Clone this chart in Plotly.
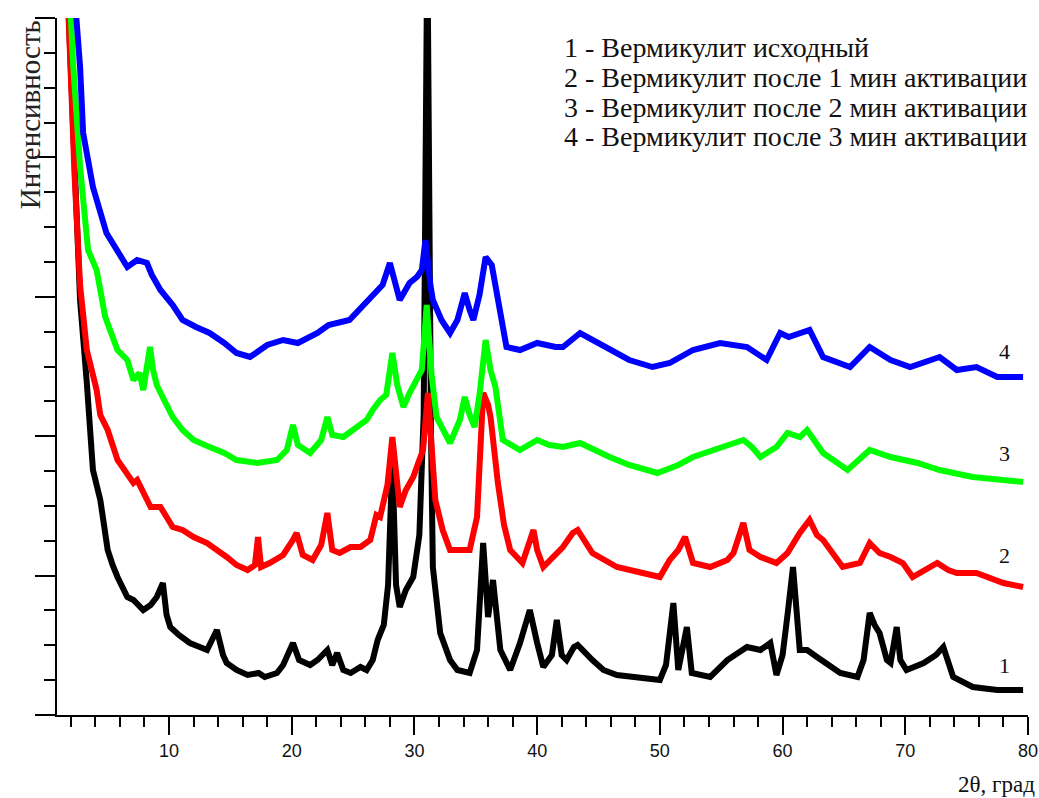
import plotly.graph_objects as go

# 2-theta positions (degrees) and intensities (arbitrary units)
x1 = [1.5, 1.9, 2.3, 2.75, 3.3, 3.8, 4.4, 5.0, 5.4, 5.8, 6.6, 7.1, 7.9, 8.5, 9.0, 9.5, 9.8, 10.1, 10.8, 11.7,
      12.5, 13.1, 13.9, 14.4, 14.7, 15.5, 16.4, 17.3, 17.8, 18.8, 19.3, 19.8, 20.1, 20.6, 21.5, 22.1, 22.9, 23.3,
      23.7, 24.2, 24.8, 25.6, 26.1, 26.6, 27.0, 27.5, 27.85, 28.2, 28.5, 28.8, 29.3, 29.9, 30.4, 30.75, 31.05,
      31.35, 31.5, 32.1, 32.9, 33.5, 34.5, 35.1, 35.6, 36.0, 36.4, 37.0, 37.8, 38.6, 39.4, 40.0, 40.5, 41.2,
      41.6, 42.0, 42.4, 43.0, 43.3, 44.5, 45.4, 46.5, 47.8, 49.0, 50.0, 50.5, 51.1, 51.5, 52.2, 52.6, 54.1,
      55.5, 57.1, 58.2, 59.0, 59.5, 60.0, 60.4, 60.85, 61.4, 62.0, 62.8, 64.7, 66.1, 66.6, 67.1, 67.5, 67.9,
      68.5, 68.8, 69.3, 69.6, 70.1, 71.5, 72.5, 73.1, 73.5, 73.9, 75.5, 77.5, 79.6]
y1 = [800, 682, 545, 415, 332, 245, 215, 165, 150, 138, 118, 115, 105, 110, 118, 132, 100, 88, 80, 72,
      68, 65, 85, 60, 52, 45, 40, 42, 38, 42, 50, 65, 72, 55, 50, 55, 65, 50,
      62, 45, 42, 48, 45, 55, 75, 90, 130, 255, 130, 108, 125, 138, 180, 300, 780,
      280, 148, 82, 55, 45, 42, 65, 172, 98, 135, 65, 45, 72, 105, 72, 48, 60,
      95, 60, 55, 68, 70, 55, 45, 40, 38, 36, 35, 50, 112, 45, 88, 42, 38,
      55, 68, 65, 72, 40, 60, 100, 148, 65, 65, 58, 42, 38, 55, 102, 90, 82,
      55, 52, 88, 55, 45, 52, 60, 68, 55, 38, 28, 25, 25]

x2 = [1.5, 1.8, 2.3, 2.75, 3.3, 4.1, 4.4, 5.0, 5.8, 7.1, 7.4, 8.5, 9.3, 10.3, 11.1, 12.0, 13.1, 14.7, 15.5,
      16.4, 17.0, 17.25, 17.5, 18.2, 19.3, 20.1, 20.4, 20.9, 21.7, 22.4, 22.9, 23.3, 23.9, 24.8, 25.6, 26.4,
      26.9, 27.2, 27.8, 28.2, 28.5, 28.8, 29.3, 29.9, 30.4, 30.7, 31.1, 31.4, 31.7, 32.3, 32.9, 33.5, 34.5,
      35.1, 35.6, 36.0, 36.2, 36.8, 37.3, 37.8, 38.8, 39.7, 40.0, 40.5, 41.5, 42.1, 42.9, 43.3, 44.5, 45.5,
      46.5, 48.6, 50.0, 50.8, 51.5, 52.05, 52.7, 54.1, 55.5, 56.0, 56.8, 57.3, 58.2, 59.5, 60.4, 61.4, 62.2,
      62.8, 63.3, 64.9, 66.3, 67.1, 67.9, 68.8, 69.8, 70.6, 72.6, 73.5, 74.2, 75.8, 77.5, 78.0, 79.6]
y2 = [800, 700, 540, 430, 365, 325, 300, 285, 255, 232, 235, 208, 208, 188, 185, 178, 172, 158, 150,
      145, 150, 178, 148, 152, 160, 175, 182, 160, 155, 170, 202, 165, 162, 168, 168, 175,
      200, 198, 230, 278, 240, 208, 225, 238, 255, 265, 322, 270, 215, 185, 165, 165, 165,
      198, 322, 310, 298, 232, 190, 165, 152, 185, 165, 148, 160, 168, 182, 185, 162, 155,
      148, 142, 138, 155, 165, 178, 152, 148, 155, 162, 192, 165, 158, 152, 162, 182, 195,
      180, 175, 148, 152, 172, 162, 158, 152, 138, 152, 145, 142, 142, 135, 132, 128]

x3 = [1.5, 2.0, 2.2, 2.75, 3.0, 3.4, 4.1, 4.8, 5.8, 6.6, 7.1, 7.6, 7.9, 8.45, 8.7, 9.0, 9.6, 10.3, 11.1,
      12.0, 13.3, 14.5, 15.5, 17.2, 18.8, 19.6, 20.1, 20.5, 21.5, 22.4, 22.9, 23.3, 24.2, 25.0, 26.1, 26.6,
      27.2, 27.7, 28.2, 28.6, 29.1, 29.6, 30.2, 30.6, 31.0, 31.4, 31.8, 32.9, 33.7, 34.1, 34.5, 34.9, 35.3,
      35.8, 36.2, 36.6, 37.2, 38.6, 40.0, 41.0, 42.1, 43.5, 45.9, 47.5, 49.8, 51.5, 52.7, 54.5, 56.8, 57.5,
      58.2, 59.5, 60.4, 61.4, 62.0, 63.3, 65.3, 67.1, 68.8, 71.0, 72.8, 75.5, 77.5, 79.6]
y3 = [820, 700, 648, 548, 515, 465, 445, 398, 365, 355, 335, 342, 325, 368, 345, 330, 315, 298, 285,
      275, 268, 262, 255, 252, 255, 265, 290, 270, 262, 275, 298, 280, 278, 285, 295, 305,
      315, 320, 362, 330, 308, 322, 335, 345, 410, 340, 298, 272, 295, 318, 300, 288, 320,
      375, 345, 328, 275, 265, 275, 270, 268, 272, 258, 250, 242, 250, 258, 265, 275, 268,
      258, 268, 282, 278, 285, 262, 245, 265, 258, 252, 245, 238, 236, 233]

x4 = [1.5, 2.3, 2.5, 2.75, 3.0, 3.8, 4.9, 6.6, 7.4, 8.2, 8.6, 9.3, 10.3, 11.1, 12.2, 13.3, 14.5, 15.5, 16.6,
      17.5, 18.0, 19.3, 20.5, 22.1, 23.0, 24.7, 25.5, 26.6, 27.4, 28.0, 28.5, 28.8, 29.6, 30.2, 30.6, 30.9,
      31.3, 31.5, 32.2, 32.9, 33.5, 34.1, 34.5, 34.8, 35.3, 35.8, 36.3, 37.0, 37.5, 38.6, 40.0, 41.5, 42.1,
      43.5, 45.9, 47.5, 49.4, 50.8, 52.7, 54.9, 57.1, 58.7, 59.8, 60.5, 62.2, 63.3, 65.5, 67.1, 68.8, 70.4,
      72.8, 74.2, 75.8, 77.5, 79.6]
y4 = [850, 720, 698, 648, 582, 528, 482, 448, 455, 452, 440, 425, 410, 395, 388, 382, 372, 362, 358,
      365, 370, 375, 372, 382, 390, 395, 405, 418, 430, 452, 425, 415, 432, 438, 445, 475,
      430, 415, 395, 382, 395, 422, 405, 395, 420, 458, 450, 405, 368, 365, 372, 368, 368,
      382, 365, 355, 348, 352, 365, 372, 368, 355, 382, 378, 385, 358, 348, 368, 355, 348,
      358, 345, 348, 338, 338]

series = [(x1, y1, "#000000"), (x2, y2, "#ff0000"), (x3, y3, "#00ff00"), (x4, y4, "#0000ff")]

legend_lines = ["1 - Вермикулит исходный",
                "2 - Вермикулит после 1 мин активации",
                "3 - Вермикулит после 2 мин активации",
                "4 - Вермикулит после 3 мин активации"]
curve_labels = ["1", "2", "3", "4"]
curve_label_y = [50, 160, 262, 364]

SERIF = "Liberation Serif, Times New Roman, serif"

fig = go.Figure()
for xs, ys, col in series:
    fig.add_trace(go.Scatter(x=xs, y=ys, mode="lines", line=dict(color=col, width=6),
                             showlegend=False, hoverinfo="skip"))

ann = []
for i, t in enumerate(legend_lines):
    ann.append(dict(x=0.52, y=0.957 - i * 0.0425, xref="paper", yref="paper", text=t, showarrow=False,
                    xanchor="left", yanchor="middle",
                    font=dict(family=SERIF, size=28, color="#111")))
for t, yv in zip(curve_labels, curve_label_y):
    ann.append(dict(x=78.1, y=yv, xref="x", yref="y", text=t, showarrow=False, xanchor="center",
                    yanchor="middle", font=dict(family=SERIF, size=22, color="#111")))
ann.append(dict(x=1.009, y=-0.099, xref="paper", yref="paper", text="2θ, град", showarrow=False,
                xanchor="right", yanchor="middle", font=dict(family=SERIF, size=23, color="#111")))
ann.append(dict(x=-0.028, y=1.0, xref="paper", yref="paper", text="Интенсивность", showarrow=False,
                xanchor="center", yanchor="top", textangle=-90,
                font=dict(family=SERIF, size=29, color="#222")))

fig.update_layout(
    width=1039, height=798,
    margin=dict(l=57, r=11, t=18, b=83, autoexpand=False),
    paper_bgcolor="white", plot_bgcolor="white",
    annotations=ann,
    xaxis=dict(range=[0.87, 80], showgrid=False, zeroline=False, showline=True, linecolor="black",
               linewidth=2, ticks="outside", ticklen=18, tickwidth=2, tickcolor="black", automargin=False,
               tickvals=[10, 20, 30, 40, 50, 60, 70, 80],
               minor=dict(ticks="outside", ticklen=10, tickwidth=2, tickcolor="black", dtick=2, tick0=0),
               tickfont=dict(family="Liberation Sans, Arial, sans-serif", size=18, color="#111")),
    yaxis=dict(range=[0, 697], showgrid=False, zeroline=False, showline=True, linecolor="black",
               linewidth=2, ticks="outside", ticklen=20, tickwidth=2, tickcolor="black", automargin=False,
               tick0=0, dtick=139.4, showticklabels=False,
               minor=dict(ticks="outside", ticklen=11, tickwidth=2, tickcolor="black", dtick=34.85, tick0=0)),
)

fig.write_html("out.html", config={"displayModeBar": False},
               post_script="document.body.style.margin='0px';document.body.style.overflow='hidden';")
